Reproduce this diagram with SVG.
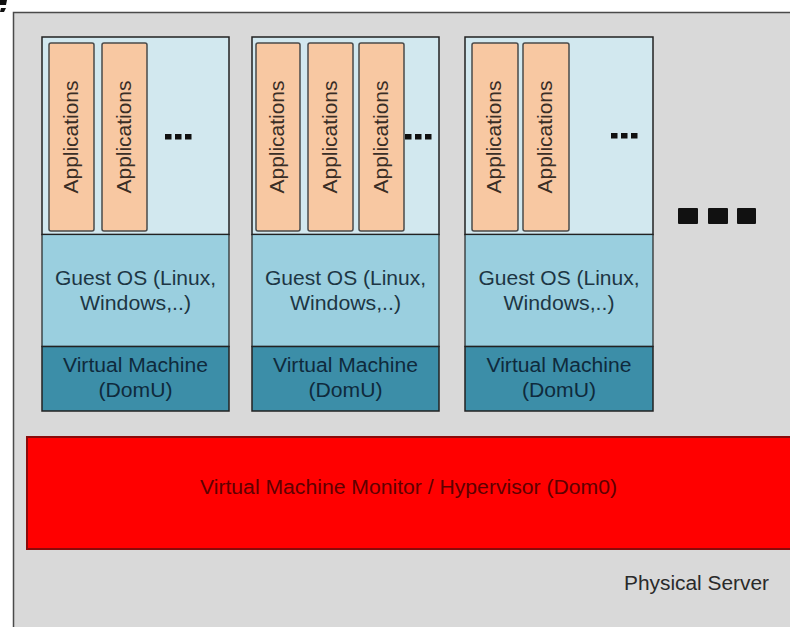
<svg xmlns="http://www.w3.org/2000/svg" width="790" height="627" viewBox="0 0 790 627">
  <defs>
    <style>
      .server { fill: #d9d9d9; stroke: #4a4a4a; stroke-width: 1.5; }
      .apps-area { fill: #d2e8ef; stroke: #222; stroke-width: 1.5; }
      .guest { fill: #9acfdf; stroke: #222; stroke-width: 1.2; }
      .vm { fill: #3c8ea8; stroke: #222; stroke-width: 1.5; }
      .app { fill: #f8c8a2; stroke: #4a4a4a; stroke-width: 1.5; }
      .dot { fill: #111; }
      .hyp { fill: #ff0000; stroke: #8a0a0a; stroke-width: 2; }
      text { font-family: "Liberation Sans", Arial, sans-serif; }
      .app-label { font-size: 20px; fill: #3a2e26; text-anchor: middle; }
      .guest-label { font-size: 20px; fill: #1d3644; text-anchor: middle; }
      .vm-label { font-size: 20px; fill: #0f2a3c; text-anchor: middle; }
      .hyp-label { font-size: 20px; fill: #5e0000; text-anchor: middle; }
      .server-label { font-size: 20px; fill: #2a2a2a; }
    </style>
  </defs>

  <!-- corner mark -->
  <path d="M0 0 H7 L6 5 H0 Z M1 8 H6 L4 12 H0 Z" fill="#111"/>

  <!-- physical server -->
  <g id="physical-server">
    <rect class="server" x="13.5" y="12.5" width="800" height="640"/>
    <text class="server-label" x="624" y="590" textLength="145" lengthAdjust="spacingAndGlyphs">Physical Server</text>
  </g>

  <!-- hypervisor -->
  <g id="hypervisor">
    <rect class="hyp" x="27" y="437" width="780" height="112"/>
    <text class="hyp-label" x="408.5" y="494" textLength="417" lengthAdjust="spacingAndGlyphs">Virtual Machine Monitor / Hypervisor (Dom0)</text>
  </g>

  <!-- VM 1 -->
  <g id="vm1">
    <rect class="apps-area" x="42" y="37" width="187" height="197.5"/>
    <rect class="guest" x="42" y="234.5" width="187" height="112"/>
    <rect class="vm" x="42" y="346.5" width="187" height="64.5"/>
    <rect class="app" x="49" y="43" width="45" height="188" rx="2"/>
    <rect class="app" x="102" y="43" width="45" height="188" rx="2"/>
    <text class="app-label" transform="translate(77.5,137) rotate(-90)" textLength="113" lengthAdjust="spacingAndGlyphs">Applications</text>
    <text class="app-label" transform="translate(130.5,137) rotate(-90)" textLength="113" lengthAdjust="spacingAndGlyphs">Applications</text>
    <rect class="dot" x="165" y="134" width="6.5" height="5.5"/>
    <rect class="dot" x="175" y="134" width="6.5" height="5.5"/>
    <rect class="dot" x="185" y="134" width="6.5" height="5.5"/>
    <text class="guest-label" x="135.5" y="285" textLength="161" lengthAdjust="spacingAndGlyphs">Guest OS (Linux,</text>
    <text class="guest-label" x="135.5" y="310" textLength="111" lengthAdjust="spacingAndGlyphs">Windows,..)</text>
    <text class="vm-label" x="135.5" y="372" textLength="145" lengthAdjust="spacingAndGlyphs">Virtual Machine</text>
    <text class="vm-label" x="135.5" y="397" textLength="74" lengthAdjust="spacingAndGlyphs">(DomU)</text>
  </g>

  <!-- VM 2 -->
  <g id="vm2">
    <rect class="apps-area" x="252" y="37" width="187" height="197.5"/>
    <rect class="guest" x="252" y="234.5" width="187" height="112"/>
    <rect class="vm" x="252" y="346.5" width="187" height="64.5"/>
    <rect class="app" x="256" y="43" width="44" height="188" rx="2"/>
    <rect class="app" x="308" y="43" width="45" height="188" rx="2"/>
    <rect class="app" x="359" y="43" width="45" height="188" rx="2"/>
    <text class="app-label" transform="translate(284,137) rotate(-90)" textLength="113" lengthAdjust="spacingAndGlyphs">Applications</text>
    <text class="app-label" transform="translate(336.5,137) rotate(-90)" textLength="113" lengthAdjust="spacingAndGlyphs">Applications</text>
    <text class="app-label" transform="translate(387.5,137) rotate(-90)" textLength="113" lengthAdjust="spacingAndGlyphs">Applications</text>
    <rect class="dot" x="405" y="134" width="6.5" height="5.5"/>
    <rect class="dot" x="415" y="134" width="6.5" height="5.5"/>
    <rect class="dot" x="425" y="134" width="6.5" height="5.5"/>
    <text class="guest-label" x="345.5" y="285" textLength="161" lengthAdjust="spacingAndGlyphs">Guest OS (Linux,</text>
    <text class="guest-label" x="345.5" y="310" textLength="111" lengthAdjust="spacingAndGlyphs">Windows,..)</text>
    <text class="vm-label" x="345.5" y="372" textLength="145" lengthAdjust="spacingAndGlyphs">Virtual Machine</text>
    <text class="vm-label" x="345.5" y="397" textLength="74" lengthAdjust="spacingAndGlyphs">(DomU)</text>
  </g>

  <!-- VM 3 -->
  <g id="vm3">
    <rect class="apps-area" x="465" y="37" width="188" height="197.5"/>
    <rect class="guest" x="465" y="234.5" width="188" height="112"/>
    <rect class="vm" x="465" y="346.5" width="188" height="64.5"/>
    <rect class="app" x="472" y="43" width="46" height="188" rx="2"/>
    <rect class="app" x="523" y="43" width="46" height="188" rx="2"/>
    <text class="app-label" transform="translate(501,137) rotate(-90)" textLength="113" lengthAdjust="spacingAndGlyphs">Applications</text>
    <text class="app-label" transform="translate(552,137) rotate(-90)" textLength="113" lengthAdjust="spacingAndGlyphs">Applications</text>
    <rect class="dot" x="611" y="133" width="6.5" height="5.5"/>
    <rect class="dot" x="621" y="133" width="6.5" height="5.5"/>
    <rect class="dot" x="631" y="133" width="6.5" height="5.5"/>
    <text class="guest-label" x="559" y="285" textLength="161" lengthAdjust="spacingAndGlyphs">Guest OS (Linux,</text>
    <text class="guest-label" x="559" y="310" textLength="111" lengthAdjust="spacingAndGlyphs">Windows,..)</text>
    <text class="vm-label" x="559" y="372" textLength="145" lengthAdjust="spacingAndGlyphs">Virtual Machine</text>
    <text class="vm-label" x="559" y="397" textLength="74" lengthAdjust="spacingAndGlyphs">(DomU)</text>
  </g>

  <!-- more VMs -->
  <g id="more-vms">
    <rect class="dot" x="678" y="208" width="20" height="16" rx="1"/>
    <rect class="dot" x="708" y="208" width="20" height="16" rx="1"/>
    <rect class="dot" x="737" y="208" width="19" height="16" rx="1"/>
  </g>

  <!-- no connectors in this layered view -->
  <g id="connectors"/>
</svg>
